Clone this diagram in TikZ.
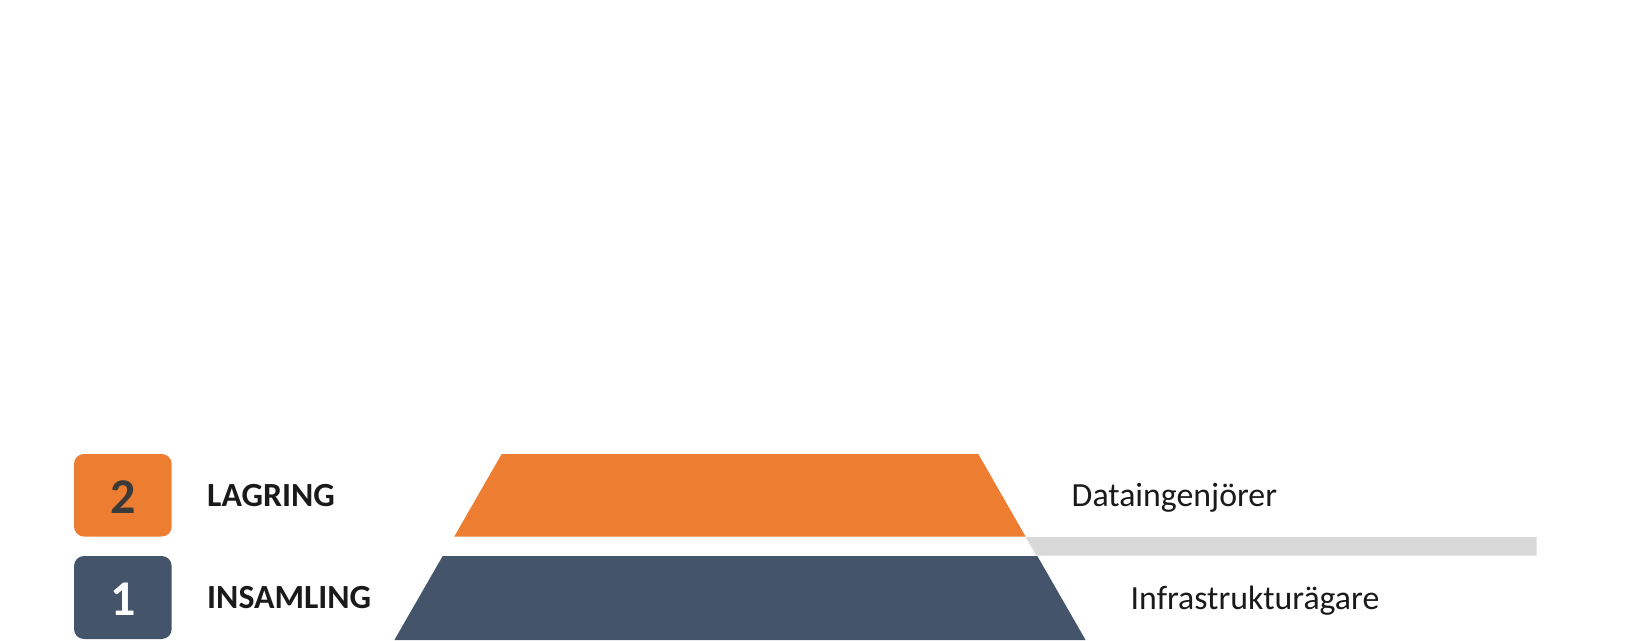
\documentclass[tikz,border=0pt]{standalone}
\usepackage{fontspec}
\setmainfont{Carlito}
\definecolor{orangeL}{HTML}{ED7D31}
\definecolor{navyL}{HTML}{44546A}
\definecolor{grayBar}{HTML}{D9D9D9}
\definecolor{digitDark}{HTML}{3A3A3A}
\definecolor{txt}{HTML}{1A1A1A}
\begin{document}
\begin{tikzpicture}[x=1pt,y=-1pt,
  numbox/.style={rectangle, rounded corners=10pt, minimum width=97.7pt, minimum height=82.5pt, inner sep=0pt, draw=none},
  digit/.style={inner sep=0pt, font=\bfseries\fontsize{50}{60}\selectfont},
  layerlabel/.style={anchor=base west, inner sep=0pt, text=txt, font=\bfseries\fontsize{33.8}{40}\selectfont},
  rolelabel/.style={anchor=base west, inner sep=0pt, text=txt, font=\fontsize{33.8}{40}\selectfont}]
\useasboundingbox[fill=white] (0,0) rectangle (1630,640);
% gray separator bar
\fill[grayBar] (1025.5,537) -- (1536.7,537) -- (1536.7,555.5) -- (1036.5,555.5) -- cycle;
% pyramid layers
\fill[orangeL] (501.7,454) -- (978.3,454) -- (1025.5,536.5) -- (454.3,536.5) -- cycle;
\fill[navyL] (442.7,556) -- (1037.3,556) -- (1085.6,640) -- (394.4,640) -- cycle;
% numbered boxes
\node[numbox, fill=orangeL] (box2) at (122.85,495.25) {};
\node[numbox, fill=navyL, minimum height=83pt] (box1) at (122.85,597.5) {};
\node[digit, text=digitDark] (d2) at (123,497.2) {2};
\node[digit, text=white] (d1) at (123,599) {1};
% labels
\node[layerlabel] (lagring) at (207,506.7) {LAGRING};
\node[layerlabel] (insamling) at (207,608.5) {INSAMLING};
\node[rolelabel] (dataing) at (1071.5,506.7) {Dataingenjörer};
\node[rolelabel] (infra) at (1130.5,609.3) {Infrastrukturägare};
\end{tikzpicture}
\end{document}
